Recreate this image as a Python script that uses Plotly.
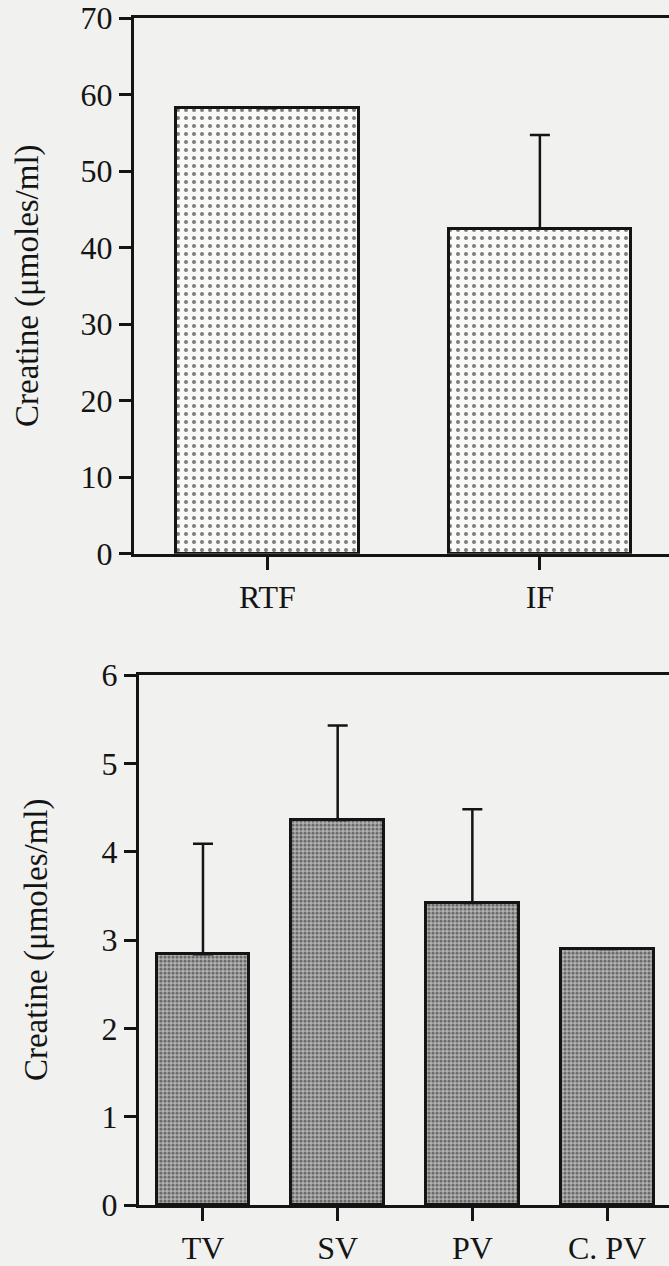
import plotly.graph_objects as go

# Top panel data
top_cats = ["RTF", "IF"]
top_vals = [58.2, 42.5]
top_err = [None, 12.2]

# Bottom panel data
bot_cats = ["TV", "SV", "PV", "C. PV"]
bot_vals = [2.84, 4.36, 3.42, 2.90]
bot_err = [1.25, 1.07, 1.06, None]

top_ticks = [0, 10, 20, 30, 40, 50, 60, 70]
bot_ticks = [0, 1, 2, 3, 4, 5, 6]

W, H = 669, 1266
ML, MR, MT, MB = 134, 0, 16, 56
PH = H - MT - MB
PW = W - ML - MR

def py(px):  # pixel y -> paper fraction
    return (H - MB - px) / PH

def pxr(px):  # pixel x -> paper fraction
    return (px - ML) / PW

BG = "#f1f1ef"
INK = "#141414"
FONT = "Liberation Serif, Times New Roman, serif"

fig = go.Figure()

fig.add_trace(go.Bar(
    x=list(range(len(top_cats))), y=top_vals, width=0.67,
    marker=dict(color="#fafaf8", line=dict(color=INK, width=3),
                pattern=dict(shape=".", bgcolor="#fafaf8", fgcolor="#000000",
                             size=8, solidity=0.2)),
    error_y=dict(type="data", symmetric=False, array=top_err,
                 arrayminus=[None if e is None else 0 for e in top_err],
                 color=INK, thickness=2.5, width=10),
    xaxis="x", yaxis="y", showlegend=False,
))

fig.add_trace(go.Bar(
    x=list(range(len(bot_cats))), y=bot_vals, width=0.69,
    marker=dict(color="#7a7a7a", line=dict(color=INK, width=3),
                pattern=dict(shape=".", bgcolor="#b4b4b4", fgcolor="#1a1a1a",
                             size=4, solidity=0.5)),
    error_y=dict(type="data", symmetric=False, array=bot_err,
                 arrayminus=[None if e is None else 0 for e in bot_err],
                 color=INK, thickness=2.5, width=10),
    xaxis="x2", yaxis="y2", showlegend=False,
))

axis_common = dict(showline=True, linecolor=INK, linewidth=3, ticks="outside",
                   tickcolor=INK, tickwidth=3, showgrid=False, zeroline=False,
                   tickfont=dict(family=FONT, size=32, color=INK))

fig.update_layout(
    width=W, height=H,
    margin=dict(l=ML, r=MR, t=MT, b=MB),
    paper_bgcolor=BG, plot_bgcolor=BG,
    bargap=0,
    xaxis=dict(domain=[0, 1], range=[-0.49, 1.474], tickvals=list(range(len(top_cats))),
               ticktext=top_cats, ticklen=13, mirror=True, anchor="y", **axis_common),
    yaxis=dict(domain=[py(555), 1], range=[0, 70], tickvals=top_ticks, ticklen=12,
               anchor="x", **axis_common),
    xaxis2=dict(domain=[pxr(139), 1], range=[-0.475, 3.46], tickvals=list(range(len(bot_cats))),
                ticktext=bot_cats, ticklen=13, mirror=True, anchor="y2", **axis_common),
    yaxis2=dict(domain=[0, py(677)], range=[0, 6], tickvals=bot_ticks, ticklen=12,
                anchor="x2", **axis_common),
)

fig.add_annotation(text="Creatine (μmoles/ml)", textangle=-90, showarrow=False,
                   xref="paper", yref="y domain", x=pxr(28), y=0.5,
                   xanchor="center", yanchor="middle",
                   font=dict(family=FONT, size=33, color=INK))
fig.add_annotation(text="Creatine (μmoles/ml)", textangle=-90, showarrow=False,
                   xref="paper", yref="y2 domain", x=pxr(36), y=0.5,
                   xanchor="center", yanchor="middle",
                   font=dict(family=FONT, size=33, color=INK))

fig.write_html("out.html")
